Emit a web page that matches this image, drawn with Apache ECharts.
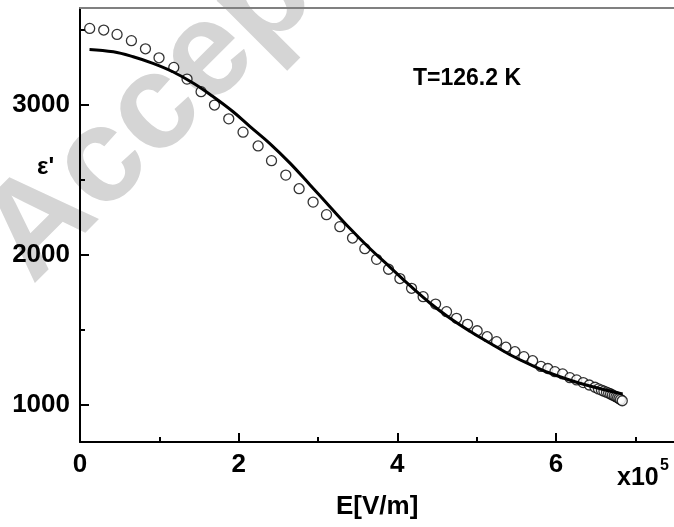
<!DOCTYPE html>
<html>
<head>
<meta charset="utf-8">
<script src="https://cdn.jsdelivr.net/npm/echarts@6/dist/echarts.min.js"></script>
<style>
  html, body { margin: 0; padding: 0; background: #fff; }
  #chart { width: 674px; height: 527px; }
</style>
</head>
<body>
<div id="chart"></div>
<script>
// Measured permittivity vs. field (E in units of 1e5 V/m)
const expE = [0.122, 0.299, 0.467, 0.648, 0.825, 0.996, 1.182, 1.349, 1.526, 1.695,
  1.875, 2.055, 2.245, 2.414, 2.594, 2.762, 2.938, 3.107, 3.275, 3.435,
  3.590, 3.738, 3.889, 4.032, 4.179, 4.325, 4.482, 4.620, 4.746, 4.885,
  5.006, 5.132, 5.251, 5.368, 5.482, 5.595, 5.705, 5.810, 5.897, 5.986,
  6.083, 6.175, 6.260, 6.343, 6.419, 6.491, 6.535, 6.572, 6.604, 6.636,
  6.663, 6.688, 6.711, 6.734, 6.755, 6.776, 6.794, 6.813, 6.835];
const expEps = [3511, 3500, 3471, 3429, 3375, 3315, 3251, 3173, 3089, 3000,
  2908, 2819, 2727, 2629, 2533, 2442, 2353, 2269, 2189, 2113,
  2042, 1971, 1905, 1843, 1778, 1722, 1673, 1622, 1578, 1538,
  1495, 1455, 1422, 1385, 1355, 1322, 1295, 1257, 1243, 1222,
  1207, 1182, 1167, 1149, 1133, 1118, 1107, 1099, 1092, 1085,
  1079, 1073, 1067, 1061, 1055, 1049, 1043, 1036, 1028];

// Model curve
const fitE = [0.12, 0.42, 0.67, 0.92, 1.17, 1.43, 1.68, 1.93, 2.14, 2.39,
  2.65, 2.90, 3.15, 3.40, 3.65, 3.91, 4.16, 4.41, 4.66, 4.92,
  5.17, 5.42, 5.67, 5.92, 6.30, 6.84];
const fitEps = [3371, 3355, 3322, 3278, 3222, 3145, 3055, 2955, 2858, 2745,
  2611, 2467, 2322, 2178, 2045, 1918, 1795, 1680, 1580, 1490,
  1411, 1335, 1270, 1213, 1145, 1073];

// Axis ticks
const yMajorTicks = [1000, 2000, 3000];
const yMinorTicks = [1500, 2500, 3500];
const xMajorTicks = [0, 2, 4, 6];
const xMinorTicks = [1, 3, 5, 7];

const FONT = 'Liberation Sans, Arial, sans-serif';
const chart = echarts.init(document.getElementById('chart'), null, { renderer: 'canvas' });

const pairs = (xs, ys) => xs.map((x, i) => [x, ys[i]]);

// The frame is cut off at the right edge of the page
const xRange = { min: 0, max: 7.487 };
const yRange = { min: 753, max: 3647 };

const xBase = {
  type: 'value', min: xRange.min, max: xRange.max, splitLine: { show: false }
};
const yBase = {
  type: 'value', position: 'left', min: yRange.min, max: yRange.max, splitLine: { show: false }
};

chart.setOption({
  animation: false,
  backgroundColor: '#ffffff',
  grid: { left: 80, top: 8, bottom: 85, right: 0, containLabel: false },
  graphic: [
    {
      type: 'text', z: -10, x: 54, y: 307, rotation: 45 * Math.PI / 180,
      style: { text: 'Accepted', font: 'bold 135px ' + FONT, fill: '#d5d5d5',
        textAlign: 'left', textVerticalAlign: 'bottom' }
    },
    {
      type: 'text', x: 413, y: 67,
      style: { text: 'T=126.2 K', font: 'bold 23px ' + FONT, fill: '#000' }
    },
    {
      type: 'text', x: 37, y: 155,
      style: { text: "\u03b5'", font: 'bold 24px ' + FONT, fill: '#000' }
    },
    {
      type: 'text', x: 336, y: 494,
      style: { text: 'E[V/m]', font: 'bold 26px ' + FONT, fill: '#000' }
    },
    {
      type: 'text', x: 617, y: 466,
      style: { text: 'x10', font: 'bold 25px ' + FONT, fill: '#000' }
    },
    {
      type: 'text', x: 660, y: 458,
      style: { text: '5', font: 'bold 16px ' + FONT, fill: '#000' }
    }
  ],
  xAxis: [
    Object.assign({}, xBase, {
      position: 'bottom',
      axisLine: { show: true, onZero: false, lineStyle: { color: '#000', width: 2 } },
      axisTick: { show: true, inside: true, length: 9, customValues: xMajorTicks,
        lineStyle: { color: '#000', width: 2 } },
      axisLabel: { customValues: xMajorTicks, margin: 10, color: '#000', fontFamily: FONT,
        fontWeight: 'bold', fontSize: 26, formatter: v => String(v) }
    }),
    Object.assign({}, xBase, {
      position: 'bottom',
      axisLine: { show: false },
      axisTick: { show: true, inside: true, length: 5, customValues: xMinorTicks,
        lineStyle: { color: '#000', width: 2 } },
      axisLabel: { show: false }
    }),
    Object.assign({}, xBase, {
      position: 'top',
      axisLine: { show: true, onZero: false, lineStyle: { color: '#808080', width: 2 } },
      axisTick: { show: false }, axisLabel: { show: false }
    })
  ],
  yAxis: [
    Object.assign({}, yBase, {
      axisLine: { show: true, onZero: false, lineStyle: { color: '#000', width: 2 } },
      axisTick: { show: true, inside: true, length: 9, customValues: yMajorTicks,
        lineStyle: { color: '#000', width: 2 } },
      axisLabel: { customValues: yMajorTicks, margin: 10, color: '#000', fontFamily: FONT,
        fontWeight: 'bold', fontSize: 26, formatter: v => String(v) }
    }),
    Object.assign({}, yBase, {
      axisLine: { show: false },
      axisTick: { show: true, inside: true, length: 5, customValues: yMinorTicks,
        lineStyle: { color: '#000', width: 2 } },
      axisLabel: { show: false }
    })
  ],
  series: [
    {
      name: 'measured', type: 'scatter', xAxisIndex: 0, yAxisIndex: 0,
      data: pairs(expE, expEps), symbol: 'circle', symbolSize: 10, z: 2,
      itemStyle: { color: '#fff', borderColor: '#000', borderWidth: 1.3 }
    },
    {
      name: 'model', type: 'line', xAxisIndex: 0, yAxisIndex: 0,
      data: pairs(fitE, fitEps), smooth: 0.4, showSymbol: false, z: 3,
      lineStyle: { color: '#000', width: 3 }
    }
  ]
});
</script>
</body>
</html>
